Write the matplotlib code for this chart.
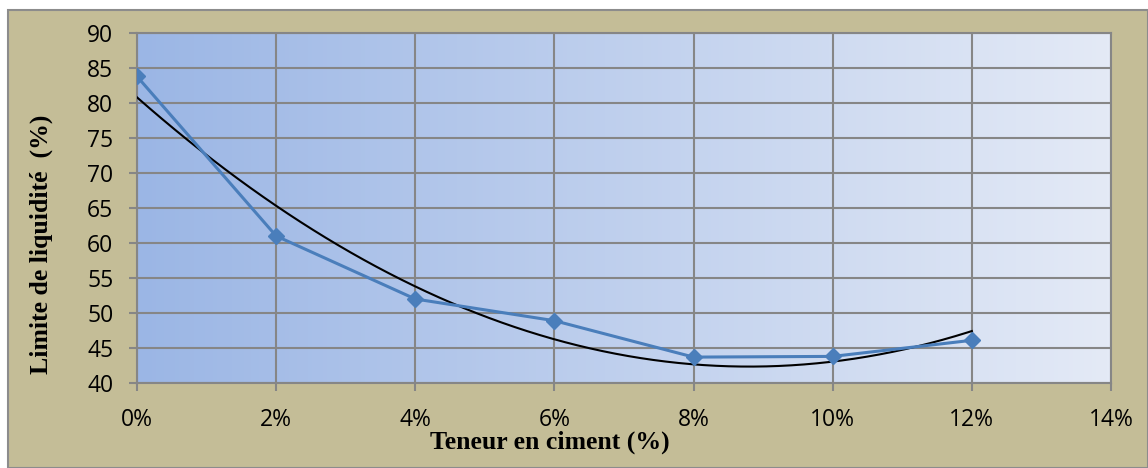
import numpy as np
import matplotlib.pyplot as plt
from matplotlib.patches import Rectangle
from matplotlib.colors import LinearSegmentedColormap
from matplotlib.ticker import FuncFormatter

# donnees
ciment = [0, 2, 4, 6, 8, 10, 12]
limite_liquidite = [83.8, 61.0, 52.0, 48.9, 43.7, 43.8, 46.1]
xticks = [0, 2, 4, 6, 8, 10, 12, 14]
yticks = [40, 45, 50, 55, 60, 65, 70, 75, 80, 85, 90]

fig = plt.figure(figsize=(11.48, 4.68), dpi=100, facecolor='white')

# fond beige du graphique
fig.patches.append(Rectangle((8 / 1148, 0), 1 - 8 / 1148, 1 - 10 / 468,
                             transform=fig.transFigure, facecolor='#C4BD97',
                             edgecolor='#8C8C8C', linewidth=1.5, zorder=-5))

ax = fig.add_axes([137 / 1148, 1 - 383 / 468, (1111 - 137) / 1148, (383 - 33) / 468])
ax.set_zorder(2)
ax.set_xlim(0, 14)
ax.set_ylim(40, 90)

# degrade bleu
cmap = LinearSegmentedColormap.from_list('fond', ['#9BB6E5', '#E4EAF6'])
grad = np.linspace(0, 1, 256).reshape(1, -1)
ax.imshow(grad, cmap=cmap, extent=[0, 14, 40, 90], aspect='auto', zorder=0)

ax.set_xticks(xticks)
ax.set_yticks(yticks)
ax.grid(True, color='#868686', linewidth=1.5, zorder=1)
ax.set_axisbelow(False)
ax.xaxis.set_major_formatter(FuncFormatter(lambda v, p: '%d%%' % v))
ax.tick_params(axis='both', length=6, width=1.5, color='#868686', labelsize=16.5, direction='out')
ax.tick_params(axis='x', pad=12)
ax.tick_params(axis='y', pad=11)
for lab in ax.get_xticklabels() + ax.get_yticklabels():
    lab.set_fontfamily('Open Sans')
for s in ax.spines.values():
    s.set_color('#868686')
    s.set_linewidth(1.5)

# courbe de tendance polynomiale (ordre 2)
coef = np.polyfit(ciment, limite_liquidite, 2)
xx = np.linspace(0, 12, 200)
ax.plot(xx, np.polyval(coef, xx), color='black', linewidth=1.5, zorder=3)

ax.plot(ciment, limite_liquidite, color='#4A7EBB', linewidth=2.2, marker='D',
        markersize=8, zorder=4)

ax.set_xlabel('Teneur en ciment (%)', fontfamily='Liberation Serif', fontweight='bold',
              fontsize=18.5)
ax.set_ylabel('Limite de liquidité  (%)', fontfamily='Liberation Serif', fontweight='bold',
              fontsize=18.5)
ax.xaxis.set_label_coords(0.424, -0.135)
ax.yaxis.set_label_coords(-0.086, 0.397)

fig.savefig('out.png', dpi=100)
